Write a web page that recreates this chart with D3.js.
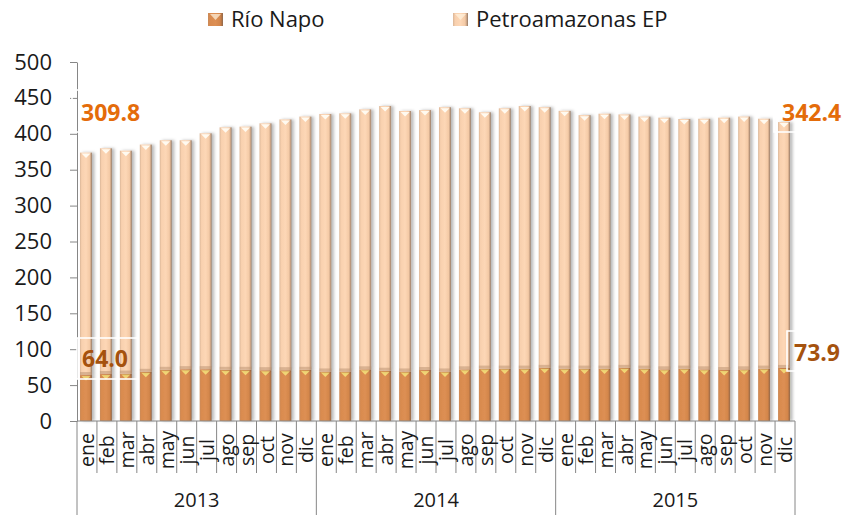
<!DOCTYPE html>
<html>
<head>
<meta charset="utf-8">
<script src="https://cdn.jsdelivr.net/npm/d3@7"></script>
<style>
  body { margin: 0; background: #fff; }
  svg { display: block; }
  text { font-family: "Open Sans", "Noto Sans", sans-serif; fill: #1a1a1a; }
</style>
</head>
<body>
<div id="chart"></div>
<script>
// months and years of the category axis
const months = ["ene", "feb", "mar", "abr", "may", "jun", "jul", "ago", "sep", "oct", "nov", "dic"];
const years = ["2013", "2014", "2015"];

// Río Napo (bottom segment)
const rioNapo = [
    64.0, 65.4, 66.0, 68.5, 71.3, 72.2, 72.2, 71.3, 71.3, 70.8, 70.8, 71.3,
    69.0, 69.0, 72.0, 70.0, 69.0, 71.0, 69.0, 72.0, 73.0, 73.0, 73.0, 74.0,
    73.0, 73.0, 73.0, 74.0, 73.0, 72.0, 73.0, 72.0, 71.0, 72.0, 73.0, 73.9
];

// Petroamazonas EP (top segment)
const petroamazonas = [
    309.8, 314.4, 310.5, 316.5, 319.7, 318.8, 328.5, 337.7, 338.7, 343.8, 349.2, 352.7,
    358.6, 359.5, 362.0, 368.7, 362.8, 362.0, 368.0, 363.5, 357.0, 362.5, 365.7, 363.0,
    359.0, 353.0, 355.0, 353.0, 351.0, 350.5, 347.6, 349.0, 351.5, 352.0, 348.0, 342.4
];

const yTicks = [0, 50, 100, 150, 200, 250, 300, 350, 400, 450, 500];
const seriesNames = ["Río Napo", "Petroamazonas EP"];

const WIDTH = 846, HEIGHT = 515;
const PLOT = { LEFT: 77, RIGHT: 795, TOP: 62, BOTTOM: 421 };

const svg = d3.select("#chart").append("svg")
    .attr("width", WIDTH)
    .attr("height", HEIGHT);

const defs = svg.append("defs");

// horizontal gradients give the bars their rounded look
function addGradient(id, stops) {
    const g = defs.append("linearGradient").attr("id", id)
        .attr("x1", "0%").attr("x2", "100%").attr("y1", "0%").attr("y2", "0%");
    stops.forEach(([o, c]) => g.append("stop").attr("offset", o).attr("stop-color", c));
}
addGradient("gradPetro", [["0%", "#d9b597"], ["14%", "#f8d0ae"], ["50%", "#fdd7b6"], ["80%", "#f4caa6"], ["92%", "#c6a083"], ["100%", "#8e7663"]]);
addGradient("gradNapo", [["0%", "#c98a59"], ["14%", "#d98b4f"], ["50%", "#dd8f53"], ["80%", "#d3864b"], ["92%", "#b07245"], ["100%", "#8a6a54"]]);

const shadow = defs.append("filter").attr("id", "shadow")
    .attr("x", "-30%").attr("y", "-5%").attr("width", "180%").attr("height", "110%");
shadow.append("feDropShadow")
    .attr("dx", 2.5).attr("dy", 0).attr("stdDeviation", 1.8)
    .attr("flood-color", "#000").attr("flood-opacity", 0.28);

// data table for the stack
const keys = years.flatMap(yr => months.map(m => yr + "-" + m));
const table = keys.map((k, i) => ({ key: k, napo: rioNapo[i], petro: petroamazonas[i] }));
const stacked = d3.stack().keys(["napo", "petro"])(table);

const xCell = d3.scaleBand().domain(keys).range([PLOT.LEFT, PLOT.RIGHT]);
const y = d3.scaleLinear().domain([0, 500]).range([PLOT.BOTTOM, PLOT.TOP]);

const barW = xCell.bandwidth() * 0.6;
const barX = d => xCell(d.data.key) + xCell.bandwidth() * 0.15;

const fills = { napo: "url(#gradNapo)", petro: "url(#gradPetro)" };
const tipFill = { napo: "#f2d675", petro: "#fffaf0" };

stacked.forEach(layer => {
    const g = svg.append("g").attr("class", "layer-" + layer.key);

    g.append("g").attr("filter", "url(#shadow)")
        .selectAll("rect")
        .data(layer)
        .join("rect")
        .attr("x", barX)
        .attr("y", d => y(d[1]))
        .attr("width", barW)
        .attr("height", d => y(d[0]) - y(d[1]))
        .attr("fill", fills[layer.key]);

    // little bevel triangle on top of each segment
    g.selectAll("path.tip")
        .data(layer)
        .join("path")
        .attr("class", "tip")
        .attr("d", d => {
            const cx = barX(d) + barW / 2, top = y(d[1]);
            return `M${cx - 4.5},${top + 1}L${cx + 4.5},${top + 1}L${cx},${top + 5.5}Z`;
        })
        .attr("fill", tipFill[layer.key]);

    if (layer.key === "petro") {
        // darker bevel at the bottom of the upper segment
        g.selectAll("rect.bevel")
            .data(layer)
            .join("rect")
            .attr("class", "bevel")
            .attr("x", barX)
            .attr("y", d => y(d[0]) - 3)
            .attr("width", barW)
            .attr("height", 3)
            .attr("fill", "#b8906f")
            .attr("opacity", 0.5);
    }
});

// y axis
const yAxis = svg.append("g")
    .attr("transform", `translate(${PLOT.LEFT},0)`)
    .call(d3.axisLeft(y).tickValues(yTicks).tickSize(7).tickSizeOuter(0).tickPadding(18));
yAxis.select(".domain").attr("stroke", "#868686");
yAxis.selectAll(".tick line").attr("stroke", "#868686");
yAxis.selectAll(".tick text")
    .style("font-size", "22px")
    .attr("fill", "#1a1a1a");

// x axis: base line, cell separators, month and year labels
const xAxis = svg.append("g");
xAxis.append("line")
    .attr("x1", PLOT.LEFT).attr("x2", PLOT.RIGHT)
    .attr("y1", PLOT.BOTTOM).attr("y2", PLOT.BOTTOM)
    .attr("stroke", "#868686");

const bounds = keys.map((k, i) => ({ x: xCell(k), yearEdge: i % 12 === 0 }))
    .concat([{ x: PLOT.RIGHT, yearEdge: true }]);
xAxis.selectAll("line.sep")
    .data(bounds)
    .join("line")
    .attr("class", "sep")
    .attr("x1", d => d.x).attr("x2", d => d.x)
    .attr("y1", PLOT.BOTTOM)
    .attr("y2", d => d.yearEdge ? HEIGHT : 473)
    .attr("stroke", "#868686");

xAxis.selectAll("text.month")
    .data(keys)
    .join("text")
    .attr("class", "month")
    .attr("transform", k => `translate(${xCell(k) + xCell.bandwidth() / 2},450) rotate(-90)`)
    .attr("dy", "0.36em")
    .attr("text-anchor", "middle")
    .style("font-size", "19.5px")
    .text(k => k.split("-")[1]);

xAxis.selectAll("text.year")
    .data(years)
    .join("text")
    .attr("class", "year")
    .attr("x", yr => (xCell(yr + "-ene") + xCell(yr + "-dic") + xCell.bandwidth()) / 2)
    .attr("y", 507)
    .attr("text-anchor", "middle")
    .style("font-size", "20px")
    .text(yr => yr);

// legend
const legend = svg.append("g");
const legendItems = [
    { name: seriesNames[0], fill: "url(#gradNapo)", x: 208 },
    { name: seriesNames[1], fill: "url(#gradPetro)", x: 453 }
];
legendItems.forEach(item => {
    legend.append("rect")
        .attr("x", item.x).attr("y", 13)
        .attr("width", 15).attr("height", 13)
        .attr("fill", item.fill);
    legend.append("path")
        .attr("d", `M${item.x + 2},14L${item.x + 13},14L${item.x + 7.5},20Z`)
        .attr("fill", "#fff3e0").attr("opacity", 0.7);
    legend.append("text")
        .attr("x", item.x + 23).attr("y", 27)
        .style("font-size", "22px")
        .text(item.name);
});

// data label callouts (first and last month)
const first = table[0], last = table[table.length - 1];
const notes = [
    { text: first.petro.toFixed(1), x: 81, y: 121, color: "#e46c0a", box: [72, 90, 75, 42] },
    { text: last.petro.toFixed(1), x: 782, y: 121, color: "#e46c0a", box: [774, 94, 80, 38] },
    { text: first.napo.toFixed(1), x: 82, y: 367, color: "#a5520e", box: [77, 338, 61, 41] },
    { text: last.napo.toFixed(1), x: 794, y: 361, color: "#a5520e", box: [787, 331, 70, 40] }
];
notes.forEach(n => {
    svg.append("rect")
        .attr("x", n.box[0]).attr("y", n.box[1])
        .attr("width", n.box[2]).attr("height", n.box[3])
        .attr("fill", "none")
        .attr("stroke", "#fff")
        .attr("stroke-width", 1.6);
    svg.append("text")
        .attr("x", n.x).attr("y", n.y)
        .style("font-size", "23px")
        .style("font-weight", "bold")
        .style("fill", n.color)
        .text(n.text);
});
</script>
</body>
</html>
